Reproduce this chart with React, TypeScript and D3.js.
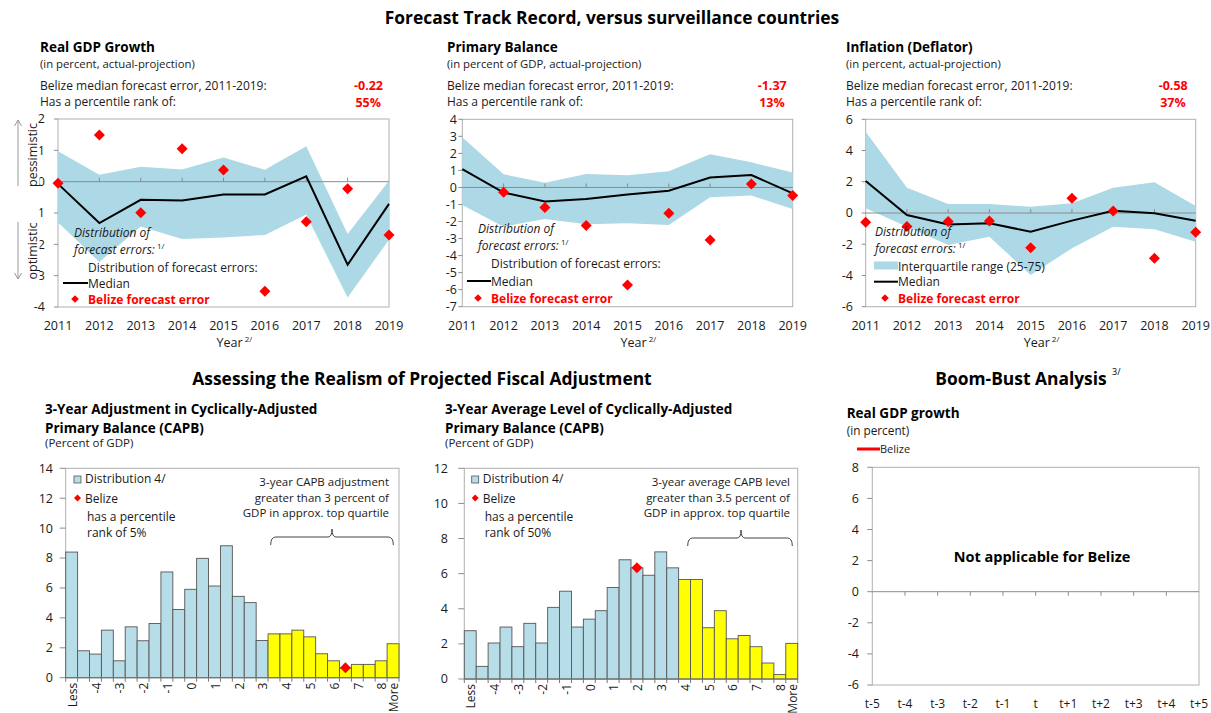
import React from 'react';
import * as d3 from 'd3';

// ---------------- DATA ----------------
const years = [2011, 2012, 2013, 2014, 2015, 2016, 2017, 2018, 2019];

const gdpP75 = [0.97, 0.22, 0.48, 0.39, 0.77, 0.38, 1.13, -1.67, 0.03];
const gdpP25 = [-1.3, -2.56, -1.43, -1.83, -1.78, -1.7, -1.05, -3.7, -1.85];
const gdpMedian = [-0.07, -1.32, -0.58, -0.6, -0.41, -0.41, 0.17, -2.65, -0.71];
const gdpBelize = [-0.05, 1.49, -0.99, 1.05, 0.37, -3.5, -1.28, -0.23, -1.7];

const pbP75 = [2.95, 0.77, 0.28, 0.79, 0.72, 0.95, 1.95, 1.48, 0.87];
const pbP25 = [-1.03, -2.3, -1.85, -2.16, -2.1, -2.2, -0.58, -0.48, -1.26];
const pbMedian = [1.07, -0.3, -0.83, -0.68, -0.42, -0.19, 0.58, 0.73, -0.35];
const pbBelize: (number | null)[] = [null, -0.28, -1.18, -2.24, -5.72, -1.52, -3.08, 0.2, -0.48];

const inflP75 = [5.21, 1.62, 0.58, 0.58, 0.4, 0.62, 1.62, 1.97, 0.45];
const inflP25 = [0.3, -0.88, -2.05, -1.52, -3.97, -2.26, -0.88, -1.04, -1.84];
const inflMedian = [2.05, -0.13, -0.73, -0.66, -1.2, -0.49, 0.15, -0.02, -0.49];
const inflBelize = [-0.6, -0.87, -0.55, -0.51, -2.22, 0.94, 0.13, -2.9, -1.24];

const histCategories = ['Less', '-4.5', '-4', '-3.5', '-3', '-2.5', '-2', '-1.5', '-1', '-0.5', '0', '0.5', '1', '1.5', '2', '2.5', '3', '3.5', '4', '4.5', '5', '5.5', '6', '6.5', '7', '7.5', '8', 'More'];
const histTickLabels = ['Less', '-4', '-3', '-2', '-1', '0', '1', '2', '3', '4', '5', '6', '7', '8', 'More'];

const adjDistribution = [8.4, 1.8, 1.58, 3.18, 1.13, 3.4, 2.47, 3.62, 7.07, 4.56, 5.91, 7.98, 6.13, 8.82, 5.44, 5.02, 2.49, 2.93, 2.93, 3.18, 2.73, 1.6, 1.13, 0.64, 0.89, 0.89, 1.13, 2.27];
const adjYellowFrom = '3.5';
const adjBelizeCategory = '6.5';
const adjBelizeValue = 0.67;

const lvlDistribution = [2.75, 0.72, 2.05, 2.96, 1.84, 3.17, 2.05, 4.08, 5.0, 2.96, 3.41, 3.89, 5.21, 6.79, 6.33, 5.91, 7.24, 6.33, 5.67, 5.67, 2.92, 3.89, 2.29, 2.48, 1.84, 0.91, 0.25, 2.03];
const lvlYellowFrom = '4';
const lvlBelizeCategory = '2';
const lvlBelizeValue = 6.33;

const boomBustPeriods = ['t-5', 't-4', 't-3', 't-2', 't-1', 't', 't+1', 't+2', 't+3', 't+4', 't+5'];

// ---------------- STYLE ----------------
const FONT = "'Open Sans', 'Noto Sans', sans-serif";
const BAND = '#add8e6';
const BAR_BLUE = '#b7dde8';
const RED = '#ff0000';
const FRAME = '#b0b0b0';
const AXIS = '#8c8c8c';
const TXT = '#1a1a1a';
const SECTION = 17.4;

function diamond(cx: number, cy: number, r: number) {
  return `M${cx},${cy - r}L${cx + r},${cy}L${cx},${cy + r}L${cx - r},${cy}Z`;
}

type PanelProps = {
  L: number; R: number; T: number; B: number;
  domain: [number, number]; step: number;
  p25: number[]; p75: number[]; med: number[]; bel: (number | null)[];
  title: string; subtitle: string; err: string; rank: string;
  textX: number; redX: number; labelX: number;
  leg: { itX: number; itY: number; rowX: number; row3Y: number; lineX: number; medY: number; diaX: number; diaY: number; iqr: boolean };
};

function TrackPanel(p: PanelProps) {
  const x = d3.scalePoint<number>().domain(years).range([p.L, p.R]);
  const y = d3.scaleLinear().domain(p.domain).range([p.B, p.T]);
  const area = d3.area<number>()
    .x((_, i) => x(years[i])!)
    .y0((_, i) => y(p.p25[i]))
    .y1((_, i) => y(p.p75[i]));
  const line = d3.line<number>().x((_, i) => x(years[i])!).y(d => y(d));
  const ticks = d3.range(p.domain[0], p.domain[1] + 0.001, p.step);
  const lg = p.leg;
  return (
    <g>
      <text x={p.textX} y={52} fontSize={13.5} fontWeight="bold" fill="#000">{p.title}</text>
      <text x={p.textX} y={68} fontSize={11.3} fill={TXT}>{p.subtitle}</text>
      <text x={p.textX} y={90} fontSize={12} fill={TXT}>Belize median forecast error, 2011-2019:</text>
      <text x={p.textX} y={106} fontSize={12} fill={TXT}>Has a percentile rank of:</text>
      <text x={p.redX} y={90} fontSize={12.5} fontWeight="bold" fill={RED} textAnchor="end">{p.err}</text>
      <text x={p.redX - 2} y={107} fontSize={12.5} fontWeight="bold" fill={RED} textAnchor="end">{p.rank}</text>

      <rect x={p.L} y={p.T} width={p.R - p.L} height={p.B - p.T} fill="#fff" stroke={FRAME} strokeWidth={1} />
      <path d={area(p.p25)!} fill={BAND} />
      <line x1={p.L} x2={p.R} y1={y(0)} y2={y(0)} stroke={AXIS} strokeWidth={1} />
      {years.slice(1, -1).map(yr => (
        <line key={yr} x1={x(yr)} x2={x(yr)} y1={y(0)} y2={y(0) - 4} stroke={AXIS} />
      ))}
      {ticks.map(t => (
        <g key={t}>
          <line x1={p.L - 4} x2={p.L} y1={y(t)} y2={y(t)} stroke={AXIS} />
          <text x={p.labelX} y={y(t)} dy="0.35em" fontSize={12.5} textAnchor="end" fill={TXT}>{t}</text>
        </g>
      ))}
      <path d={line(p.med)!} fill="none" stroke="#000" strokeWidth={2} />
      {p.bel.map((v, i) => v === null ? null : (
        <path key={i} d={diamond(x(years[i])!, y(v), 5.5)} fill={RED} />
      ))}
      {years.map(yr => (
        <text key={yr} x={x(yr)} y={330} fontSize={12.5} textAnchor="middle" fill={TXT}>{yr}</text>
      ))}
      <text x={(p.L + p.R) / 2 - 7} y={347} fontSize={12.5} fill={TXT}>Year<tspan fontSize={8} dy={-5}> 2/</tspan></text>

      {/* legend */}
      <text x={lg.itX} y={lg.itY} fontSize={12} fontStyle="italic" fill={TXT}>Distribution of</text>
      <text x={lg.itX} y={lg.itY + 17} fontSize={12} fontStyle="italic" fill={TXT}>forecast errors:<tspan fontSize={8} dy={-5} fontStyle="normal"> 1/</tspan></text>
      {lg.iqr ? (
        <g>
          <rect x={lg.lineX} y={lg.row3Y - 9} width={lg.rowX - lg.lineX} height={8} fill={BAND} />
          <text x={lg.rowX} y={lg.row3Y} fontSize={12} fill={TXT}>Interquartile range (25-75)</text>
        </g>
      ) : (
        <text x={lg.rowX} y={lg.row3Y} fontSize={12} fill={TXT}>Distribution of forecast errors:</text>
      )}
      <line x1={lg.lineX} x2={lg.rowX} y1={lg.medY} y2={lg.medY} stroke="#000" strokeWidth={2} />
      <text x={lg.rowX} y={lg.medY + 4.5} fontSize={12} fill={TXT}>Median</text>
      <path d={diamond(lg.diaX, lg.diaY, 3.8)} fill={RED} />
      <text x={lg.rowX} y={lg.diaY + 4.5} fontSize={12} fontWeight="bold" fill={RED}>Belize forecast error</text>
    </g>
  );
}

type HistProps = {
  L: number; R: number; T: number; B: number; maxY: number; labelX: number;
  values: number[]; yellowFrom: string; belCat: string; belVal: number;
  titleX: number; title1: string; title2: string;
  note: string[]; noteX: number;
  legX: number; rankText: string;
  brace: [number, number, number, number];
};

function Histogram(h: HistProps) {
  const x = d3.scaleBand<string>().domain(histCategories).range([h.L, h.R]).padding(0);
  const y = d3.scaleLinear().domain([0, h.maxY]).range([h.B, h.T]);
  const yIdx = histCategories.indexOf(h.yellowFrom);
  const ticks = d3.range(0, h.maxY + 0.001, 2);
  const bw = x.bandwidth();
  const [bx1, bx2, bxc, by] = h.brace;
  const braceD = `M${bx1},${by + 8} Q${bx1},${by} ${bx1 + 5},${by} L${bxc - 4},${by} Q${bxc},${by} ${bxc},${by - 8} Q${bxc},${by} ${bxc + 4},${by} L${bx2 - 5},${by} Q${bx2},${by} ${bx2},${by + 8}`;
  return (
    <g>
      <text x={h.titleX} y={414} fontSize={13.5} fontWeight="bold" fill="#000">{h.title1}</text>
      <text x={h.titleX} y={433} fontSize={13.5} fontWeight="bold" fill="#000">{h.title2}</text>
      <text x={h.titleX} y={447} fontSize={11.5} fill={TXT}>(Percent of GDP)</text>

      <rect x={h.L} y={h.T} width={h.R - h.L} height={h.B - h.T} fill="#fff" stroke={FRAME} />
      {ticks.map(t => (
        <g key={t}>
          <line x1={h.L - 6} x2={h.L} y1={y(t)} y2={y(t)} stroke={AXIS} />
          <text x={h.labelX} y={y(t)} dy="0.35em" fontSize={12.5} textAnchor="end" fill={TXT}>{t}</text>
        </g>
      ))}
      {h.values.map((v, i) => (
        <rect key={i} x={x(histCategories[i])} y={y(v)} width={bw} height={y(0) - y(v)}
          fill={i >= yIdx ? '#ffff00' : BAR_BLUE} stroke="#555" strokeWidth={0.9} />
      ))}
      <line x1={h.L} x2={h.R} y1={y(0)} y2={y(0)} stroke="#777" />
      {histCategories.map((c) => (
        <line key={c} x1={x(c)} x2={x(c)} y1={y(0)} y2={y(0) + 4} stroke="#777" />
      ))}
      <line x1={h.R} x2={h.R} y1={y(0)} y2={y(0) + 4} stroke="#777" />
      {histCategories.map(c => histTickLabels.includes(c) ? (
        <text key={c} transform={`translate(${x(c)! + bw / 2 + 1},${y(0) + 5}) rotate(-90)`} dy="0.35em"
          fontSize={12} textAnchor="end" fill={TXT}>{c}</text>
      ) : null)}
      <path d={diamond(x(h.belCat)! + bw / 2, y(h.belVal), 5.5)} fill={RED} />

      {h.note.map((s, i) => (
        <text key={i} x={h.noteX} y={486 + i * 15.5} fontSize={11.5} textAnchor="end" fill={TXT}>{s}</text>
      ))}
      <path d={braceD} fill="none" stroke="#444" strokeWidth={1} />

      <rect x={h.legX} y={476} width={7} height={7} fill={BAR_BLUE} stroke="#555" strokeWidth={0.8} />
      <text x={h.legX + 11} y={483} fontSize={12} fill={TXT}>Distribution 4/</text>
      <path d={diamond(h.legX + 3.5, 498, 3.5)} fill={RED} />
      <text x={h.legX + 11} y={502.5} fontSize={12} fill={TXT}>Belize</text>
      <text x={h.legX + 13} y={521} fontSize={12} fill={TXT}>has a percentile</text>
      <text x={h.legX + 13} y={537} fontSize={12} fill={TXT}>{h.rankText}</text>
    </g>
  );
}

function BoomBust() {
  const L = 872.3, R = 1199, T = 467.3, B = 685;
  const x = d3.scalePoint<string>().domain(boomBustPeriods).range([L, R]);
  const y = d3.scaleLinear().domain([-6, 8]).range([B, T]);
  const ticks = d3.range(-6, 8.001, 2);
  return (
    <g>
      <text x={846.7} y={418} fontSize={13.5} fontWeight="bold" fill="#000">Real GDP growth</text>
      <text x={846.7} y={435} fontSize={11.8} fill={TXT}>(in percent)</text>
      <line x1={857} x2={880} y1={449} y2={449} stroke={RED} strokeWidth={3} />
      <text x={880} y={453} fontSize={11} fill={TXT}>Belize</text>
      <rect x={L} y={T} width={R - L} height={B - T} fill="#fff" stroke={FRAME} />
      {ticks.map(t => (
        <g key={t}>
          <line x1={L - 5} x2={L} y1={y(t)} y2={y(t)} stroke={AXIS} />
          <text x={859} y={y(t)} dy="0.35em" fontSize={12.5} textAnchor="end" fill={TXT}>{t}</text>
        </g>
      ))}
      <line x1={L} x2={R} y1={y(0)} y2={y(0)} stroke={AXIS} />
      {boomBustPeriods.slice(1, -1).map(c => (
        <line key={c} x1={x(c)} x2={x(c)} y1={y(0)} y2={y(0) + 4} stroke={AXIS} />
      ))}
      {boomBustPeriods.map(c => (
        <text key={c} x={x(c)} y={708} fontSize={12} textAnchor="middle" fill={TXT}>{c}</text>
      ))}
      <text x={1042} y={562} fontSize={14.5} fontWeight="bold" textAnchor="middle" fill="#000">Not applicable for Belize</text>
    </g>
  );
}

export default function App() {
  return (
    <svg width={1211} height={713} style={{ position: 'absolute', left: 0, top: 0, background: '#fff' }} fontFamily={FONT}>
      <rect x={0} y={0} width={1211} height={713} fill="#fff" />
      <text x={612} y={24} fontSize={SECTION} fontWeight="bold" textAnchor="middle" fill="#000">Forecast Track Record, versus surveillance countries</text>

      <TrackPanel L={58} R={389} T={119} B={307} domain={[-4, 2]} step={1}
        p25={gdpP25} p75={gdpP75} med={gdpMedian} bel={gdpBelize}
        title="Real GDP Growth" subtitle="(in percent, actual-projection)" err="-0.22" rank="55%"
        textX={40} redX={383} labelX={45}
        leg={{ itX: 74, itY: 236.5, rowX: 88, row3Y: 271.5, lineX: 63, medY: 283, diaX: 75, diaY: 299, iqr: false }} />
      <TrackPanel L={462.3} R={792.7} T={119.3} B={306.7} domain={[-7, 4]} step={1}
        p25={pbP25} p75={pbP75} med={pbMedian} bel={pbBelize}
        title="Primary Balance" subtitle="(in percent of GDP, actual-projection)" err="-1.37" rank="13%"
        textX={447} redX={786.7} labelX={457}
        leg={{ itX: 478, itY: 233, rowX: 491, row3Y: 267.5, lineX: 467, medY: 281, diaX: 478, diaY: 298, iqr: false }} />
      <TrackPanel L={865.7} R={1195.7} T={119.3} B={306.7} domain={[-6, 6]} step={2}
        p25={inflP25} p75={inflP75} med={inflMedian} bel={inflBelize}
        title="Inflation (Deflator)" subtitle="(in percent, actual-projection)" err="-0.58" rank="37%"
        textX={846} redX={1187.7} labelX={853}
        leg={{ itX: 875, itY: 236, rowX: 898, row3Y: 270.5, lineX: 874, medY: 281.7, diaX: 885, diaY: 298, iqr: true }} />

      {/* pessimistic / optimistic side labels */}
      <rect x={23} y={123} width={16.5} height={63} fill="#fff" />
      <rect x={23} y={205} width={16.5} height={77} fill="#fff" />
      <text transform="translate(36.5,155) rotate(-90)" fontSize={12.5} textAnchor="middle" fill={TXT}>pessimistic</text>
      <text transform="translate(36.5,251) rotate(-90)" fontSize={12.5} textAnchor="middle" fill={TXT}>optimistic</text>
      <g stroke="#999" strokeWidth={1} fill="none">
        <line x1={18} x2={18} y1={120} y2={186} />
        <path d="M14.5,126 L18,120 L21.5,126" />
        <line x1={18} x2={18} y1={222} y2={279} />
        <path d="M14.5,273 L18,279 L21.5,273" />
      </g>

      <text x={422} y={385} fontSize={SECTION} fontWeight="bold" textAnchor="middle" fill="#000">Assessing the Realism of Projected Fiscal Adjustment</text>
      <text x={1021} y={385} fontSize={SECTION} fontWeight="bold" textAnchor="middle" fill="#000">Boom-Bust Analysis</text>
      <text x={1112} y={375} fontSize={9} fill="#000">3/</text>

      <Histogram L={65.7} R={399} T={468.3} B={677.7} maxY={14} labelX={53}
        values={adjDistribution} yellowFrom={adjYellowFrom} belCat={adjBelizeCategory} belVal={adjBelizeValue}
        titleX={45} title1="3-Year Adjustment in Cyclically-Adjusted" title2="Primary Balance (CAPB)"
        note={['3-year CAPB adjustment', 'greater than 3 percent of', 'GDP in approx. top quartile']} noteX={389}
        legX={74} rankText="rank of 5%" brace={[270.7, 393.3, 332, 537]} />
      <Histogram L={464.3} R={797.7} T={468.3} B={679} maxY={12} labelX={448}
        values={lvlDistribution} yellowFrom={lvlYellowFrom} belCat={lvlBelizeCategory} belVal={lvlBelizeValue}
        titleX={445} title1="3-Year Average Level of Cyclically-Adjusted" title2="Primary Balance (CAPB)"
        note={['3-year average CAPB level', 'greater than 3.5 percent of', 'GDP in approx. top quartile']} noteX={790}
        legX={471.7} rankText="rank of  50%" brace={[687.7, 792.3, 741, 538]} />

      <BoomBust />
    </svg>
  );
}
